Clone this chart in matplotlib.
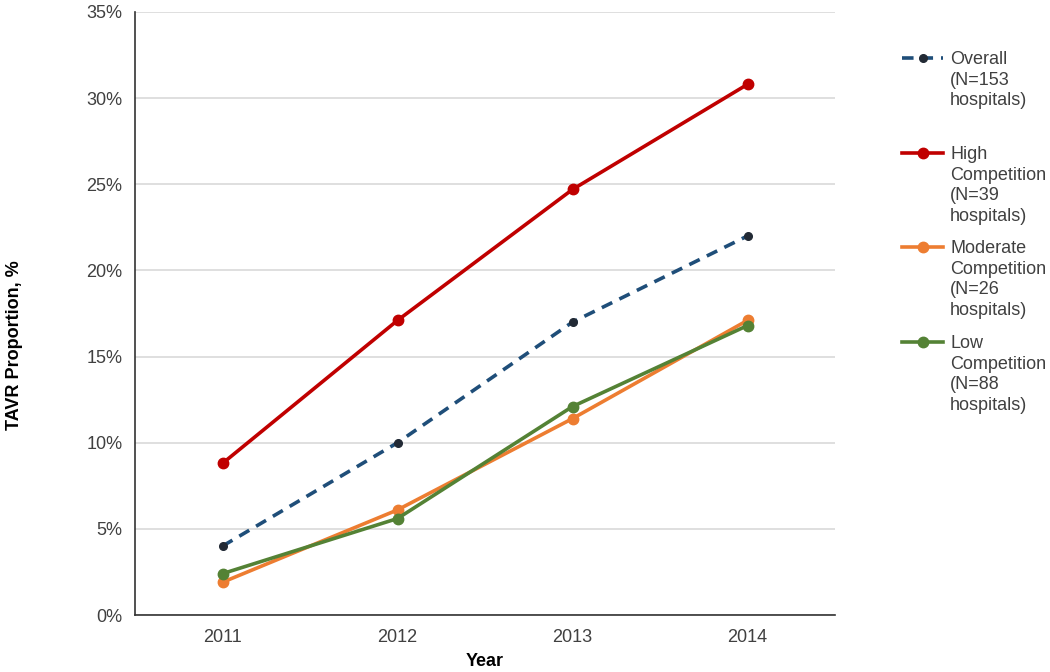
import matplotlib
matplotlib.use("Agg")
import matplotlib.pyplot as plt
from matplotlib.lines import Line2D
from matplotlib.ticker import PercentFormatter

plt.rcParams['font.family'] = ['Liberation Sans', 'DejaVu Sans']

years = ["2011", "2012", "2013", "2014"]
overall = [4.0, 10.0, 17.0, 22.0]
high = [8.8, 17.1, 24.7, 30.8]
moderate = [1.9, 6.1, 11.4, 17.1]
low = [2.4, 5.6, 12.1, 16.8]

labels = [
    "Overall\n(N=153\nhospitals)",
    "High\nCompetition\n(N=39\nhospitals)",
    "Moderate\nCompetition\n(N=26\nhospitals)",
    "Low\nCompetition\n(N=88\nhospitals)",
]

styles = [
    dict(color="#1F4E79", ls=(0, (3.2, 2.2)), lw=2.6, ms=5.5, mfc="#222A35", mec="#222A35"),
    dict(color="#C00000", ls="-", lw=2.6, ms=7.5, mfc="#C00000", mec="#C00000"),
    dict(color="#ED7D31", ls="-", lw=2.6, ms=7.5, mfc="#ED7D31", mec="#ED7D31"),
    dict(color="#548235", ls="-", lw=2.6, ms=7.5, mfc="#548235", mec="#548235"),
]
series = [overall, high, moderate, low]
TXT = "#404040"

fig = plt.figure(figsize=(10.5, 6.72), dpi=100)
W, H = 1050, 672
ax = fig.add_axes([135 / W, 1 - 615 / H, 700 / W, 603 / H])

x = list(range(len(years)))
for st, vals in zip(styles, series):
    ax.plot(x, vals, marker="o", color=st["color"], ls=st["ls"], lw=st["lw"],
            ms=st["ms"], mfc=st["mfc"], mec=st["mec"], zorder=3, clip_on=False)

ax.set_xlim(-0.5, 3.5)
ax.set_ylim(0, 35)
ax.set_xticks(x)
ax.set_xticklabels(years)
ax.set_yticks(range(0, 36, 5))
ax.yaxis.set_major_formatter(PercentFormatter(decimals=0))
ax.tick_params(axis="both", length=0, labelsize=13, labelcolor=TXT)
ax.tick_params(axis="x", pad=10)
ax.tick_params(axis="y", pad=9)
ax.grid(axis="y", color="#D9D9D9", lw=1.2, zorder=0)
ax.set_axisbelow(True)
for s in ["top", "right"]:
    ax.spines[s].set_visible(False)
for s in ["left", "bottom"]:
    ax.spines[s].set_color("#333333")
    ax.spines[s].set_linewidth(1.2)

fig.text(485 / W, 1 - 661 / H, "Year", fontsize=13, fontweight="bold",
         color="#000000", ha="center", va="center")
fig.text(15 / W, 1 - 345 / H, "TAVR Proportion, %", fontsize=13, fontweight="bold",
         color="#000000", ha="center", va="center", rotation=90)

# manual legend: handle aligned with the first text line
legend_y = [58, 153, 247, 342]
for st, lab, yy in zip(styles, labels, legend_y):
    yf = 1 - yy / H
    fig.add_artist(Line2D([902 / W, 943 / W], [yf, yf], color=st["color"], ls=st["ls"],
                          lw=st["lw"], transform=fig.transFigure))
    fig.add_artist(Line2D([923 / W], [yf], marker="o", ms=st["ms"], mfc=st["mfc"],
                          mec=st["mec"], ls="none", transform=fig.transFigure))
    fig.text(950 / W, yf + 7 / H, lab, fontsize=13, color=TXT, va="top",
             ha="left", linespacing=1.27)

fig.savefig("out.png", dpi=100)
